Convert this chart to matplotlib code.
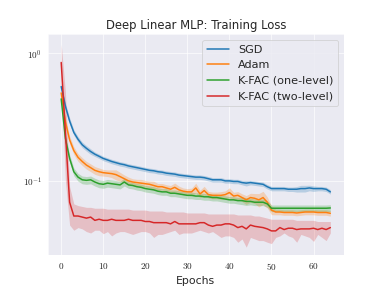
import numpy as np
import matplotlib
matplotlib.use("Agg")
import matplotlib.pyplot as plt
import matplotlib.ticker as mticker
import seaborn as sns

############################################
# 1. data
############################################
epochs = list(range(65))

sgd = [0.55, 0.385, 0.295, 0.24, 0.212, 0.192, 0.18, 0.17, 0.162, 0.156,
       0.15, 0.146, 0.142, 0.139, 0.136, 0.134, 0.131, 0.129, 0.127, 0.125,
       0.123, 0.121, 0.12, 0.118, 0.117, 0.115, 0.114, 0.113, 0.111, 0.11,
       0.109, 0.108, 0.107, 0.107, 0.106, 0.104, 0.102, 0.102, 0.102, 0.1,
       0.1, 0.099, 0.099, 0.097, 0.096, 0.097, 0.096, 0.095, 0.094, 0.09,
       0.087, 0.087, 0.087, 0.087, 0.086, 0.086, 0.086, 0.087, 0.087, 0.088,
       0.087, 0.087, 0.087, 0.086, 0.082]
sgd_spread = [0.07, 0.06, 0.06, 0.05, 0.05, 0.05, 0.05, 0.05, 0.04, 0.04,
              0.04, 0.04, 0.04, 0.04, 0.04, 0.04, 0.04, 0.04, 0.04, 0.04,
              0.04, 0.04, 0.04, 0.04, 0.04, 0.04, 0.04, 0.04, 0.04, 0.04,
              0.04, 0.04, 0.04, 0.04, 0.04, 0.04, 0.04, 0.04, 0.04, 0.04,
              0.04, 0.04, 0.04, 0.04, 0.05, 0.04, 0.04, 0.04, 0.04, 0.04,
              0.04, 0.04, 0.04, 0.04, 0.04, 0.04, 0.05, 0.06, 0.06, 0.05,
              0.05, 0.04, 0.04, 0.04, 0.04]

adam = [0.49, 0.29, 0.21, 0.173, 0.153, 0.142, 0.133, 0.127, 0.121, 0.118,
        0.116, 0.115, 0.114, 0.112, 0.108, 0.104, 0.1, 0.098, 0.097, 0.096,
        0.095, 0.094, 0.092, 0.09, 0.09, 0.088, 0.086, 0.089, 0.085, 0.083,
        0.082, 0.082, 0.088, 0.079, 0.084, 0.078, 0.077, 0.077, 0.077, 0.078,
        0.081, 0.076, 0.077, 0.074, 0.071, 0.074, 0.073, 0.071, 0.074, 0.068,
        0.059, 0.057, 0.057, 0.0565, 0.0565, 0.0565, 0.056, 0.0565, 0.057, 0.057,
        0.057, 0.0565, 0.0565, 0.0565, 0.0557]
adam_spread = [0.08, 0.07, 0.07, 0.07, 0.07, 0.07, 0.07, 0.07, 0.07, 0.07,
               0.06, 0.06, 0.07, 0.09, 0.08, 0.07, 0.07, 0.06, 0.06, 0.07,
               0.06, 0.06, 0.08, 0.06, 0.06, 0.06, 0.07, 0.08, 0.07, 0.06,
               0.06, 0.07, 0.09, 0.07, 0.08, 0.06, 0.06, 0.06, 0.07, 0.07,
               0.09, 0.07, 0.07, 0.07, 0.08, 0.08, 0.09, 0.12, 0.12, 0.1,
               0.08, 0.05, 0.05, 0.05, 0.05, 0.05, 0.05, 0.05, 0.05, 0.05,
               0.05, 0.05, 0.05, 0.05, 0.05]

kfac1 = [0.44, 0.215, 0.15, 0.118, 0.107, 0.102, 0.101, 0.102, 0.098, 0.095,
         0.094, 0.096, 0.095, 0.094, 0.093, 0.098, 0.093, 0.092, 0.09, 0.089,
         0.087, 0.086, 0.085, 0.083, 0.082, 0.082, 0.08, 0.08, 0.079, 0.078,
         0.077, 0.077, 0.076, 0.076, 0.075, 0.075, 0.074, 0.074, 0.073, 0.072,
         0.071, 0.071, 0.07, 0.07, 0.069, 0.069, 0.068, 0.068, 0.068, 0.066,
         0.061, 0.061, 0.061, 0.061, 0.061, 0.061, 0.061, 0.061, 0.061, 0.061,
         0.061, 0.061, 0.061, 0.061, 0.0613]
kfac1_spread = [0.06, 0.07, 0.07, 0.07, 0.07, 0.07, 0.07, 0.07, 0.07, 0.07,
                0.07, 0.07, 0.07, 0.07, 0.07, 0.07, 0.06, 0.06, 0.06, 0.06,
                0.06, 0.06, 0.06, 0.06, 0.06, 0.06, 0.06, 0.06, 0.06, 0.06,
                0.06, 0.06, 0.06, 0.06, 0.06, 0.06, 0.06, 0.06, 0.06, 0.06,
                0.06, 0.06, 0.06, 0.07, 0.07, 0.06, 0.06, 0.06, 0.06, 0.06,
                0.06, 0.06, 0.06, 0.06, 0.06, 0.06, 0.06, 0.06, 0.06, 0.06,
                0.06, 0.06, 0.06, 0.06, 0.06]

kfac2 = [0.85, 0.24, 0.068, 0.053, 0.053, 0.052, 0.051, 0.052, 0.049, 0.05,
         0.049, 0.049, 0.05, 0.049, 0.049, 0.049, 0.05, 0.049, 0.049, 0.049,
         0.048, 0.048, 0.047, 0.047, 0.047, 0.047, 0.046, 0.048, 0.046, 0.046,
         0.046, 0.046, 0.046, 0.047, 0.047, 0.045, 0.044, 0.045, 0.045, 0.046,
         0.046, 0.045, 0.043, 0.044, 0.042, 0.045, 0.044, 0.0435, 0.043, 0.042,
         0.0405, 0.0405, 0.043, 0.0415, 0.0425, 0.0425, 0.0415, 0.042, 0.042, 0.042,
         0.0425, 0.0415, 0.0425, 0.0415, 0.043]
kfac2_hi = [1.18, 0.5, 0.09, 0.066, 0.064, 0.063, 0.062, 0.062, 0.061, 0.061,
            0.061, 0.06, 0.06, 0.06, 0.06, 0.06, 0.06, 0.059, 0.059, 0.059,
            0.059, 0.058, 0.058, 0.058, 0.058, 0.057, 0.057, 0.057, 0.057, 0.057,
            0.056, 0.056, 0.056, 0.056, 0.056, 0.055, 0.055, 0.055, 0.055, 0.055,
            0.055, 0.055, 0.054, 0.054, 0.054, 0.054, 0.053, 0.053, 0.052, 0.051,
            0.05, 0.05, 0.05, 0.05, 0.05, 0.05, 0.049, 0.049, 0.049, 0.049,
            0.049, 0.048, 0.048, 0.048, 0.048]
kfac2_lo = [0.62, 0.1, 0.045, 0.041, 0.043, 0.042, 0.04, 0.039, 0.041, 0.041,
            0.0385, 0.04, 0.037, 0.039, 0.04, 0.04, 0.039, 0.038, 0.039, 0.04,
            0.04, 0.039, 0.036, 0.038, 0.038, 0.039, 0.04, 0.041, 0.038, 0.039,
            0.039, 0.039, 0.04, 0.041, 0.04, 0.039, 0.04, 0.038, 0.036, 0.037,
            0.037, 0.036, 0.033, 0.035, 0.0302, 0.036, 0.035, 0.034, 0.034, 0.033,
            0.0322, 0.036, 0.037, 0.039, 0.037, 0.036, 0.033, 0.038, 0.037, 0.036,
            0.0335, 0.038, 0.036, 0.034, 0.039]

############################################
# 2. style
############################################
sns.set_style("darkgrid")
plt.rcParams["mathtext.fontset"] = "cm"

fig, ax = plt.subplots(figsize=(382 / 60, 287 / 60), dpi=60)

############################################
# 3. curves
############################################
x = np.array(epochs)
series = [
    ("SGD", sgd, sgd_spread, "tab:blue"),
    ("Adam", adam, adam_spread, "tab:orange"),
    ("K-FAC (one-level)", kfac1, kfac1_spread, "tab:green"),
]
for name, m, s, c in series:
    m = np.array(m)
    s = np.array(s)
    ax.plot(x, m, color=c, label=name, lw=1.8)
    ax.fill_between(x, m * (1 - s), m * (1 + s), color=c, alpha=0.25, lw=0)

ax.plot(x, kfac2, color="tab:red", label="K-FAC (two-level)", lw=1.8)
ax.fill_between(x, kfac2_lo, kfac2_hi, color="tab:red", alpha=0.22, lw=0)

############################################
# 4. axes
############################################
ax.set_yscale("log")
ax.set_ylim(0.026, 1.41)
ax.set_xlim(-3.2, 67.2)
ax.set_xticks([0, 10, 20, 30, 40, 50, 60])
ax.xaxis.set_major_formatter(mticker.FuncFormatter(lambda v, p: r"$%d$" % v))
ax.yaxis.set_major_locator(mticker.FixedLocator([0.1, 1.0]))
ax.yaxis.set_major_formatter(mticker.FixedFormatter([r"$10^{-1}$", r"$10^{0}$"]))
ax.yaxis.set_minor_formatter(mticker.NullFormatter())
ax.tick_params(labelsize=11)

ax.set_title("Deep Linear MLP: Training Loss", fontsize=14)
ax.set_xlabel("Epochs", fontsize=13)
ax.legend(loc="upper right", fontsize=13.5)

fig.savefig("out.png", dpi=60)
